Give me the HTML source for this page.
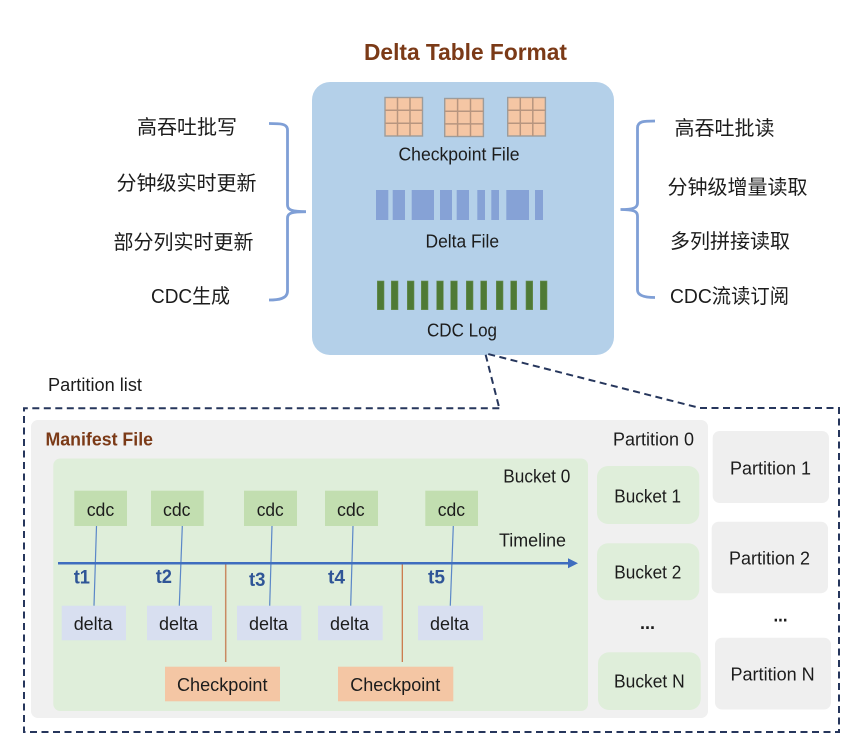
<!DOCTYPE html>
<html lang="zh">
<head>
<meta charset="utf-8">
<title>Delta Table Format</title>
<style>
html,body{margin:0;padding:0;background:#fff;width:859px;height:746px;overflow:hidden}
svg{display:block}
text{font-family:"Liberation Sans","Noto Sans CJK SC",sans-serif;fill:#1c1c1c;font-size:18px}
.zh{font-size:20px;text-anchor:middle}
.b{font-weight:bold;fill:#7b3a17}
.t{font-weight:bold;fill:#2f5597;font-size:19px}
</style>
</head>
<body>
<svg width="859" height="746" viewBox="0 0 859 746" xmlns="http://www.w3.org/2000/svg">
<rect width="859" height="746" fill="#ffffff"/>

<text class="b" x="364" y="60" style="font-size:23px" textLength="203" lengthAdjust="spacingAndGlyphs">Delta Table Format</text>

<!-- main box -->
<rect x="312" y="82" width="302" height="273" rx="18" fill="#b4d0e9"/>

<!-- checkpoint grids -->
<g fill="#f5c6a4" stroke="#9c9c9c" stroke-width="1.4">
<rect x="385" y="97.500" width="37.500" height="38.500"/>
<rect x="444.700" y="98.500" width="38.700" height="38"/>
<rect x="507.700" y="97.500" width="37.700" height="38.500"/>
</g>
<g stroke="#b7957f" stroke-width="1.500" fill="none">
<path d="M397.500 97.500V136M410 97.500V136M385 110.300H422.500M385 123.200H422.500"/>
<path d="M457.600 98.500V136.500M470.500 98.500V136.500M444.700 111.200H483.400M444.700 123.900H483.400"/>
<path d="M520.300 97.500V136M532.800 97.500V136M507.700 110.300H545.400M507.700 123.200H545.400"/>
</g>
<text x="398.500" y="160.500" textLength="121" lengthAdjust="spacingAndGlyphs">Checkpoint File</text>

<!-- delta bars -->
<g fill="#86a2d6">
<rect x="376" y="190" width="12.300" height="30"/>
<rect x="392.700" y="190" width="12.300" height="30"/>
<rect x="411.700" y="190" width="22.300" height="30"/>
<rect x="440" y="190" width="12" height="30"/>
<rect x="456.700" y="190" width="12.300" height="30"/>
<rect x="477.300" y="190" width="7.700" height="30"/>
<rect x="491.300" y="190" width="7.700" height="30"/>
<rect x="506.300" y="190" width="22.700" height="30"/>
<rect x="535" y="190" width="8" height="30"/>
</g>
<text x="425.500" y="247.500" textLength="73.500" lengthAdjust="spacingAndGlyphs">Delta File</text>

<!-- cdc bars -->
<g fill="#4f7a35" stroke="#6a8f55" stroke-width="0.600">
<rect x="377.300" y="281" width="6.700" height="28.700"/>
<rect x="391.300" y="281" width="6.700" height="28.700"/>
<rect x="407.300" y="281" width="6.700" height="28.700"/>
<rect x="421.300" y="281" width="6.700" height="28.700"/>
<rect x="436.700" y="281" width="6.600" height="28.700"/>
<rect x="450.700" y="281" width="6.600" height="28.700"/>
<rect x="466.300" y="281" width="6.700" height="28.700"/>
<rect x="480.700" y="281" width="6" height="28.700"/>
<rect x="496.300" y="281" width="6.700" height="28.700"/>
<rect x="510.700" y="281" width="6" height="28.700"/>
<rect x="526" y="281" width="6.700" height="28.700"/>
<rect x="540.300" y="281" width="6.700" height="28.700"/>
</g>
<text x="427" y="336.500" textLength="70" lengthAdjust="spacingAndGlyphs">CDC Log</text>

<!-- left labels -->
<text class="zh" x="187" y="134">高吞吐批写</text>
<text class="zh" x="186.500" y="190">分钟级实时更新</text>
<text class="zh" x="183.500" y="249">部分列实时更新</text>
<text class="zh" x="190.500" y="303" textLength="79" lengthAdjust="spacingAndGlyphs">CDC生成</text>

<!-- right labels -->
<text class="zh" x="724.500" y="135">高吞吐批读</text>
<text class="zh" x="737.500" y="194">分钟级增量读取</text>
<text class="zh" x="730" y="248">多列拼接读取</text>
<text class="zh" x="729.500" y="303" textLength="119" lengthAdjust="spacingAndGlyphs">CDC流读订阅</text>

<!-- braces -->
<g fill="none" stroke="#7f9fd6" stroke-width="2.800">
<path d="M269 123.500C280 123.500 287.500 123.500 287.500 130V205C287.500 210 292 211.700 306 211.700M306 211.700C292 211.700 287.500 213 287.500 218V291C287.500 299 278 300 269 300"/>
<path d="M655 121C644 121 637.500 121 637.500 128V203C637.500 208 633 209.500 620.500 209.500M620.500 209.500C633 209.500 637.500 211 637.500 216V290C637.500 296 646 297.500 655 297.500"/>
</g>

<text x="48" y="391" textLength="94" lengthAdjust="spacingAndGlyphs">Partition list</text>

<!-- dashed outline -->
<path d="M499.300 408.300H24V732H839V408H700L485.300 353.300L499.300 408.300" fill="none" stroke="#26365c" stroke-width="2" stroke-dasharray="7 4.500"/>

<!-- manifest -->
<rect x="31" y="420" width="677" height="298" rx="7" fill="#f0f0f0"/>
<text class="b" x="45.500" y="445.500" textLength="107.500" lengthAdjust="spacingAndGlyphs">Manifest File</text>
<text x="613" y="445.500" textLength="81" lengthAdjust="spacingAndGlyphs">Partition 0</text>

<!-- bucket 0 -->
<rect x="53.300" y="458.500" width="534.700" height="252.500" rx="7" fill="#dfeeda"/>
<text x="503.300" y="482.500" textLength="67" lengthAdjust="spacingAndGlyphs">Bucket 0</text>
<text x="499" y="546.500" textLength="67" lengthAdjust="spacingAndGlyphs">Timeline</text>

<!-- cdc boxes -->
<g fill="#c2deb0">
<rect x="74.300" y="490.700" width="52.700" height="35.300"/>
<rect x="151" y="490.700" width="52.700" height="35.300"/>
<rect x="244" y="490.700" width="53" height="35.300"/>
<rect x="325" y="490.700" width="53" height="35.300"/>
<rect x="425.300" y="490.700" width="52.700" height="35.300"/>
</g>
<text x="86.700" y="516" textLength="27.600" lengthAdjust="spacingAndGlyphs">cdc</text>
<text x="163" y="516" textLength="27.500" lengthAdjust="spacingAndGlyphs">cdc</text>
<text x="256.700" y="516" textLength="27" lengthAdjust="spacingAndGlyphs">cdc</text>
<text x="337" y="516" textLength="27.700" lengthAdjust="spacingAndGlyphs">cdc</text>
<text x="437.700" y="516" textLength="27.300" lengthAdjust="spacingAndGlyphs">cdc</text>

<!-- delta boxes -->
<g fill="#d8dff0">
<rect x="61.700" y="605.700" width="64.300" height="34.600"/>
<rect x="147" y="605.700" width="65" height="34.600"/>
<rect x="237" y="605.700" width="64.300" height="34.600"/>
<rect x="318" y="605.700" width="64.700" height="34.600"/>
<rect x="418" y="605.700" width="65" height="34.600"/>
</g>
<text x="73.700" y="630" textLength="39" lengthAdjust="spacingAndGlyphs">delta</text>
<text x="159" y="630" textLength="39" lengthAdjust="spacingAndGlyphs">delta</text>
<text x="249" y="630" textLength="39" lengthAdjust="spacingAndGlyphs">delta</text>
<text x="330" y="630" textLength="39" lengthAdjust="spacingAndGlyphs">delta</text>
<text x="430" y="630" textLength="39" lengthAdjust="spacingAndGlyphs">delta</text>

<!-- connectors -->
<g stroke="#5b87c8" stroke-width="1.200" fill="none">
<path d="M96.500 526L94 605.700"/>
<path d="M182.300 526L179.300 605.700"/>
<path d="M272 526L269.700 605.700"/>
<path d="M353 526L350.700 605.700"/>
<path d="M453.300 526L450.300 605.700"/>
</g>
<path d="M225.700 563V662" stroke="#c98a62" stroke-width="1.500"/>
<path d="M402.300 563V662" stroke="#c9703f" stroke-width="1.200"/>

<!-- timeline -->
<path d="M58 563.300H569" stroke="#3f6dbf" stroke-width="2.500"/>
<path d="M568 558.300L578 563.300L568 568.300Z" fill="#3f6dbf"/>

<text class="t" x="73.700" y="583.500" textLength="16.300" lengthAdjust="spacingAndGlyphs">t1</text>
<text class="t" x="155.700" y="583" textLength="16.300" lengthAdjust="spacingAndGlyphs">t2</text>
<text class="t" x="249" y="586" textLength="16.500" lengthAdjust="spacingAndGlyphs">t3</text>
<text class="t" x="328" y="583.700" textLength="17" lengthAdjust="spacingAndGlyphs">t4</text>
<text class="t" x="428" y="583.700" textLength="17" lengthAdjust="spacingAndGlyphs">t5</text>

<!-- checkpoints -->
<rect x="165" y="666.700" width="115" height="34.600" fill="#f4c6a4"/>
<rect x="338" y="666.700" width="115.300" height="34.600" fill="#f4c6a4"/>
<text x="177" y="691" textLength="90.500" lengthAdjust="spacingAndGlyphs">Checkpoint</text>
<text x="350.300" y="691" textLength="90" lengthAdjust="spacingAndGlyphs">Checkpoint</text>

<!-- right buckets -->
<g fill="#dfeeda">
<rect x="597" y="466" width="102.300" height="58" rx="11"/>
<rect x="597" y="543.300" width="102.300" height="57" rx="11"/>
<rect x="598" y="652.300" width="102.700" height="57.700" rx="11"/>
</g>
<text x="614.300" y="502.500" textLength="66.700" lengthAdjust="spacingAndGlyphs">Bucket 1</text>
<text x="614.300" y="578.500" textLength="67" lengthAdjust="spacingAndGlyphs">Bucket 2</text>
<text x="614" y="687.300" textLength="70.700" lengthAdjust="spacingAndGlyphs">Bucket N</text>
<text x="640" y="629" style="font-weight:bold" textLength="15" lengthAdjust="spacingAndGlyphs">...</text>
<text x="773.500" y="621.500" style="font-weight:bold" textLength="14" lengthAdjust="spacingAndGlyphs">...</text>

<!-- partitions -->
<g fill="#efefef">
<rect x="712.700" y="431" width="116.300" height="72" rx="7"/>
<rect x="711.700" y="521.700" width="116.300" height="71.500" rx="7"/>
<rect x="715" y="637.700" width="116" height="71.800" rx="7"/>
</g>
<text x="730" y="474.500" textLength="81" lengthAdjust="spacingAndGlyphs">Partition 1</text>
<text x="729" y="564.500" textLength="81" lengthAdjust="spacingAndGlyphs">Partition 2</text>
<text x="730.500" y="680.500" textLength="84.200" lengthAdjust="spacingAndGlyphs">Partition N</text>
</svg>
</body>
</html>
